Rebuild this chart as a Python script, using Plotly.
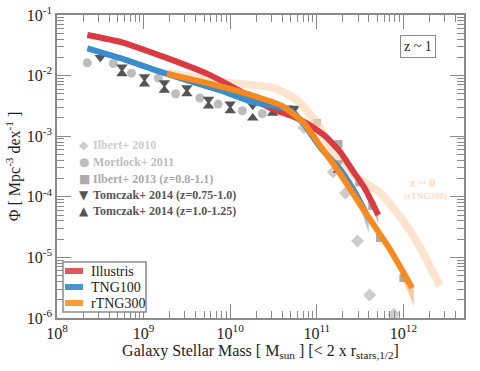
import plotly.graph_objects as go

# ---------------- data (log10 values) ----------------
illustris_m   = [8.35, 8.75, 9.25, 9.75, 10.12, 10.35, 10.5, 10.7, 10.9, 11.1, 11.27, 11.42, 11.55, 11.71]
illustris_phi = [-1.33, -1.45, -1.70, -1.98, -2.26, -2.45, -2.56, -2.66, -2.80, -3.00, -3.26, -3.58, -3.85, -4.30]
illustris_band_m  = [11.55, 11.65, 11.71]
illustris_band_hi = [-3.80, -4.05, -4.25]
illustris_band_lo = [-3.88, -4.20, -4.45]

tng100_m   = [8.35, 8.75, 9.2, 9.6, 9.9, 10.27, 10.5, 10.7, 10.85, 11.05, 11.27, 11.45, 11.56]
tng100_phi = [-1.55, -1.72, -1.94, -2.12, -2.25, -2.44, -2.50, -2.58, -2.80, -3.20, -3.55, -3.95, -4.25]
tng100_band_m  = [11.45, 11.52, 11.6]
tng100_band_hi = [-3.92, -4.05, -4.25]
tng100_band_lo = [-4.00, -4.25, -4.60]

rtng300_m   = [9.27, 9.6, 10.0, 10.35, 10.6, 10.85, 11.05, 11.27, 11.58, 11.85, 12.1]
rtng300_phi = [-1.97, -2.08, -2.22, -2.37, -2.50, -2.78, -3.18, -3.62, -4.30, -4.88, -5.50]
rtng300_band_m  = [11.98, 12.05, 12.12]
rtng300_band_hi = [-5.22, -5.35, -5.50]
rtng300_band_lo = [-5.35, -5.55, -5.80]

z0_m   = [9.27, 9.6, 10.0, 10.5, 10.77, 11.0, 11.15, 11.3, 11.5, 11.73, 12.0, 12.19, 12.42]
z0_phi = [-1.95, -2.03, -2.12, -2.20, -2.40, -2.78, -3.17, -3.48, -3.72, -3.93, -4.40, -4.83, -5.47]

ilbert10_m   = [10.85, 11.19, 11.33, 11.47, 11.61, 11.89]
ilbert10_phi = [-2.86, -3.59, -3.94, -4.73, -5.62, -5.94]

mortlock_m   = [8.35, 8.65, 8.86, 9.17, 9.37, 9.65, 9.86, 10.14, 10.37]
mortlock_phi = [-1.79, -1.80, -1.96, -2.04, -2.30, -2.37, -2.47, -2.58, -2.63]

ilbert13_m   = [10.67, 11.0, 11.25, 11.49, 11.64, 11.73, 12.0]
ilbert13_phi = [-2.55, -2.78, -3.13, -3.76, -4.15, -4.68, -5.34]

tomczak1_m   = [8.50, 8.75, 9.01, 9.24, 9.50, 9.75, 10.0, 10.26, 10.49, 10.74, 11.25]
tomczak1_phi = [-1.70, -1.86, -2.02, -2.12, -2.20, -2.39, -2.47, -2.49, -2.52, -2.54, -3.44]

tomczak2_m   = [8.75, 9.01, 9.24, 9.50, 9.75, 10.0, 10.26, 10.49, 10.74, 11.25]
tomczak2_phi = [-1.97, -2.14, -2.24, -2.30, -2.50, -2.58, -2.70, -2.62, -2.62, -3.56]

x_tickvals = [1e8, 1e9, 1e10, 1e11, 1e12]
x_ticktext = ["10<sup>8</sup>", "10<sup>9</sup>", "10<sup>10</sup>", "10<sup>11</sup>", "10<sup>12</sup>"]
y_tickvals = [1e-6, 1e-5, 1e-4, 1e-3, 1e-2, 1e-1]
y_ticktext = ["10<sup>-6</sup>", "10<sup>-5</sup>", "10<sup>-4</sup>", "10<sup>-3</sup>", "10<sup>-2</sup>", "10<sup>-1</sup>"]

sim_names = ["Illustris", "TNG100", "rTNG300"]
sim_colors = ["#da3a42", "#3a8ccb", "#f68a20"]
legend_colors = ["#e0585e", "#4a94cc", "#fb9b3c"]
obs_names = ["Ilbert+ 2010", "Mortlock+ 2011", "Ilbert+ 2013 (z=0.8-1.1)",
             "Tomczak+ 2014 (z=0.75-1.0)", "Tomczak+ 2014 (z=1.0-1.25)"]
obs_symbols = ["◆", "●", "■", "▼", "▲"]
obs_colors = ["#cdcdcd", "#bdbdbd", "#ababab", "#555555", "#555555"]

P = lambda a: [10 ** v for v in a]
SERIF = "Liberation Serif"

fig = go.Figure()

# observations (underneath lines)
obs_data = [(ilbert10_m, ilbert10_phi, "diamond", 10), (mortlock_m, mortlock_phi, "circle", 9),
            (ilbert13_m, ilbert13_phi, "square", 8), (tomczak1_m, tomczak1_phi, "triangle-down", 10),
            (tomczak2_m, tomczak2_phi, "triangle-up", 10)]
for (m, p, sym, sz), col in zip(obs_data, obs_colors):
    fig.add_trace(go.Scatter(x=P(m), y=P(p), mode="markers", showlegend=False,
                             marker=dict(symbol=sym, size=sz, color=col, line=dict(width=0))))

# z~0 reference
fig.add_trace(go.Scatter(x=P(z0_m), y=P(z0_phi), mode="lines", showlegend=False,
                         line=dict(color="rgba(252,214,180,0.65)", width=8, shape="spline", smoothing=0.5)))

def band(m, hi, lo, color):
    fig.add_trace(go.Scatter(x=P(m + m[::-1]), y=P(hi + lo[::-1]), mode="lines", fill="toself",
                             fillcolor=color, line=dict(width=0), showlegend=False, hoverinfo="skip"))

band(illustris_band_m, illustris_band_hi, illustris_band_lo, "rgba(218,58,66,0.45)")
band(tng100_band_m, tng100_band_hi, tng100_band_lo, "rgba(58,140,203,0.45)")
band(rtng300_band_m, rtng300_band_hi, rtng300_band_lo, "rgba(246,138,32,0.45)")

for m, p, c in [(illustris_m, illustris_phi, sim_colors[0]), (tng100_m, tng100_phi, sim_colors[1]),
                (rtng300_m, rtng300_phi, sim_colors[2])]:
    fig.add_trace(go.Scatter(x=P(m), y=P(p), mode="lines", showlegend=False,
                             line=dict(color=c, width=6, shape="spline", smoothing=0.5)))

# ---------- layout ----------
L, R, T, B = 57, 16, 15, 53
W, H = 480, 371
pw, ph = W - L - R, H - T - B
px = lambda x: (x - L) / pw
py = lambda y: (H - B - y) / ph

axis_common = dict(type="log", showgrid=False, zeroline=False, showline=True, linecolor="#8a8a8a",
                   linewidth=1.5, mirror="ticks", ticks="inside", ticklen=14, tickcolor="#8a8a8a",
                   tickwidth=1.2, tickfont=dict(family=SERIF, size=16, color="#222"), automargin=False,
                   ticklabeloverflow="allow",
                   minor=dict(ticks="inside", ticklen=7, tickcolor="#8a8a8a", tickwidth=1, dtick="D1",
                              showgrid=False))

fig.update_layout(
    width=W, height=H, margin=dict(l=L, r=R, t=T, b=B),
    paper_bgcolor="white", plot_bgcolor="white", showlegend=False,
    font=dict(family=SERIF, color="#222"),
    xaxis=dict(axis_common, range=[8, 12.7], tickvals=x_tickvals, ticktext=x_ticktext,
               title=dict(text="Galaxy Stellar Mass [ M<sub>sun</sub> ] [< 2 x r<sub>stars,1/2</sub>]",
                          font=dict(family=SERIF, size=16, color="#222"), standoff=2)),
    yaxis=dict(axis_common, range=[-6, -1], tickvals=y_tickvals, ticktext=y_ticktext,
               title=dict(text="Φ [ Mpc<sup>-3</sup> dex<sup>-1</sup> ]",
                          font=dict(family=SERIF, size=16, color="#222"), standoff=2)),
)

ann = []
# observation legend
rows = [145, 162, 179, 195, 211]
for name, sym, col, yy in zip(obs_names, obs_symbols, obs_colors, rows):
    ann.append(dict(x=px(84), y=py(yy), xref="paper", yref="paper", text=sym, showarrow=False,
                    xanchor="center", yanchor="middle", font=dict(family="DejaVu Sans", size=12, color=col)))
    ann.append(dict(x=px(91), y=py(yy), xref="paper", yref="paper", text="<b>" + name + "</b>",
                    showarrow=False, xanchor="left", yanchor="middle",
                    font=dict(family=SERIF, size=12, color=col)))

# simulation legend (manual)
shapes = [dict(type="rect", xref="paper", yref="paper", x0=px(63), x1=px(146), y0=py(312), y1=py(262),
               line=dict(color="#8a8a8a", width=1.5), fillcolor="white", layer="above")]
for name, col, yy in zip(sim_names, legend_colors, [271, 287, 303]):
    shapes.append(dict(type="line", xref="paper", yref="paper", x0=px(65), x1=px(83), y0=py(yy), y1=py(yy),
                       line=dict(color=col, width=6), layer="above"))
    ann.append(dict(x=px(89), y=py(yy), xref="paper", yref="paper", text=name, showarrow=False,
                    xanchor="left", yanchor="middle", font=dict(family=SERIF, size=14, color="#222")))

# z ~ 1 box
ann.append(dict(x=px(418), y=py(46), xref="paper", yref="paper", text="z ~ 1", showarrow=False,
                xanchor="center", yanchor="middle", bordercolor="#8a8a8a", borderwidth=1, borderpad=3,
                bgcolor="white", font=dict(family=SERIF, size=14, color="#222")))
# z ~ 0 label
ann.append(dict(x=px(423), y=py(182), xref="paper", yref="paper", text="<b>z ~ 0</b>", showarrow=False,
                xanchor="center", yanchor="middle", font=dict(family=SERIF, size=13, color="#fcdcbf")))
ann.append(dict(x=px(425), y=py(196), xref="paper", yref="paper", text="<b>(rTNG300)</b>", showarrow=False,
                xanchor="center", yanchor="middle", font=dict(family=SERIF, size=9, color="#fcdcbf")))

fig.update_layout(annotations=ann, shapes=shapes)
fig.write_html("out.html", config={"displayModeBar": False},
               post_script="document.body.style.margin='0';")
